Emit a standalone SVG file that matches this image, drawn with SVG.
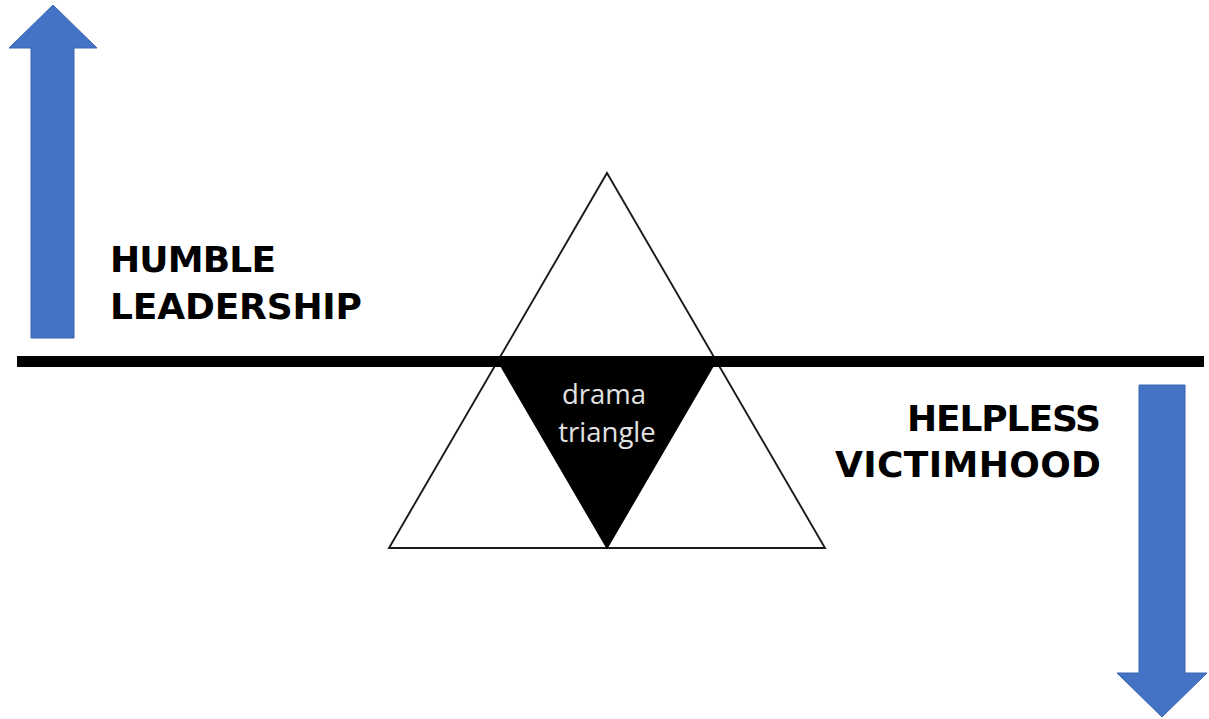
<svg xmlns="http://www.w3.org/2000/svg" width="1209" height="719" viewBox="0 0 1209 719">
  <style>
    .arrow { fill: #4472C4; stroke: #3B65B0; stroke-width: 1; }
    .tri { fill: #ffffff; stroke: #1a1a1a; stroke-width: 1.9; stroke-linejoin: miter; }
    .label { font-family: "DejaVu Sans", Verdana, sans-serif; font-weight: bold; font-size: 36px; fill: #000000; }
    .inner { font-family: "Open Sans", "Noto Sans", sans-serif; font-size: 27.5px; fill: #e2e2e2; text-anchor: middle; }
  </style>
  <rect width="1209" height="719" fill="#ffffff"/>
  <g id="up-arrow">
    <polygon class="arrow" points="53,5 97,48 74,48 74,338 31,338 31,48 9,48"/>
  </g>
  <g id="down-arrow">
    <polygon class="arrow" points="1139,385 1185,385 1185,673 1207,673 1162,717 1117,673 1139,673"/>
  </g>
  <g id="triangle">
    <polygon class="tri" points="607,173 825,548 389,548"/>
    <polygon points="498,361 716,361 607,548" fill="#000000" stroke="#000000" stroke-width="1.5" stroke-linejoin="miter"/>
    <text class="inner" x="604" y="404">drama</text>
    <text class="inner" x="607" y="442">triangle</text>
  </g>
  <g id="divider">
    <rect x="17" y="356" width="1187" height="11" fill="#000000"/>
  </g>
  <g id="humble-leadership">
    <text class="label" x="110" y="272" textLength="166">HUMBLE</text>
    <text class="label" x="110" y="319" textLength="252">LEADERSHIP</text>
  </g>
  <g id="helpless-victimhood">
    <text class="label" x="907" y="431" textLength="194">HELPLESS</text>
    <text class="label" x="835" y="477" textLength="266">VICTIMHOOD</text>
  </g>
</svg>
